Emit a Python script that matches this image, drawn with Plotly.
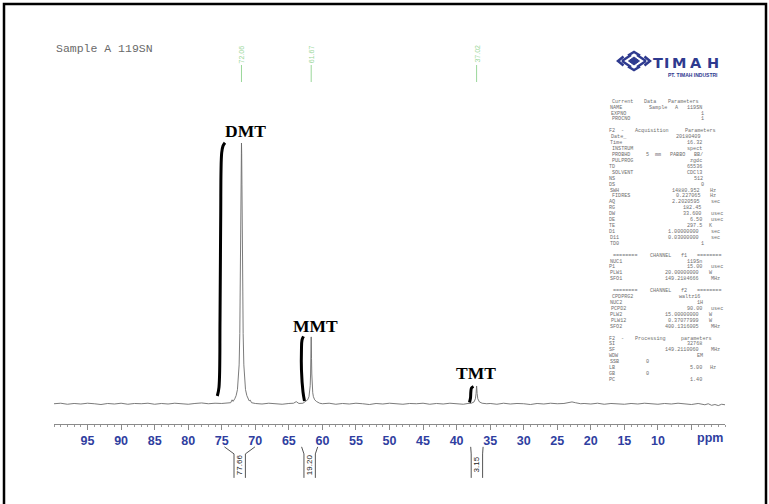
import re
import plotly.graph_objects as go

W, H = 769, 504
ML, MR = 54, 44
PW = W - ML - MR


def px(x):
    return (x - ML) / PW


def py(y):
    return 1 - y / H


# ---------------- data ----------------
spec_ppm = [100.0, 99.0, 98.0, 97.0, 96.0, 95.0, 94.0, 93.0, 92.0, 91.0, 90.0, 89.0, 88.0,
            87.0, 86.0, 85.0, 84.0, 83.0, 82.0, 81.0, 80.0, 79.0, 78.0, 77.0, 76.0, 75.0,
            74.2, 73.66, 73.46, 73.31, 73.06, 72.86, 72.66, 72.51, 72.41, 72.31, 72.24,
            72.18, 72.13, 72.09, 72.06, 72.03, 71.99, 71.94, 71.88, 71.81, 71.71, 71.61,
            71.46, 71.26, 71.06, 70.91, 70.76, 70.56, 70.0, 69.0, 68.0, 67.0, 66.0, 65.0,
            64.3, 63.9, 63.5, 62.9, 62.5, 62.2, 62.0, 61.9, 61.82, 61.76, 61.72, 61.69,
            61.67, 61.65, 61.62, 61.58, 61.52, 61.44, 61.34, 61.15, 60.85, 60.4, 60.0,
            59.0, 58.0, 57.0, 56.0, 55.0, 54.0, 53.0, 52.0, 51.0, 50.0, 49.0, 48.0, 47.0,
            46.0, 45.0, 44.0, 43.0, 42.0, 41.0, 40.0, 39.0, 38.3, 37.8, 37.4, 37.2, 37.1,
            37.05, 37.02, 36.99, 36.94, 36.84, 36.6, 36.2, 35.5, 35.0, 34.0, 33.0, 32.0,
            31.0, 30.0, 29.0, 28.0, 27.0, 26.0, 25.0, 24.0, 23.3, 22.8, 22.3, 21.5, 21.0,
            20.0, 19.0, 18.0, 17.0, 16.0, 15.0, 14.0, 13.0, 12.0, 11.0, 10.0, 9.0, 8.0,
            7.0, 6.0, 5.0, 4.0, 3.0, 2.5, 2.0, 1.5, 1.0, 0.5, 0.0]
spec_int = [0.1, 0.3, -0.1, 0.2, 0.0, 0.3, 0.1, -0.2, 0.2, 0.0, 0.3, -0.1, 0.2,
            0.1, 0.3, -0.1, 0.2, 0.0, 0.3, 0.1, -0.1, 0.2, 0.4, 0.1, 0.3, 0.2,
            0.4, 0.5, 1.6, 1.0, 2.0, 3.2, 5.5, 9.5, 15.0, 27.0, 42.0,
            62.0, 84.0, 96.0, 100.0, 96.0, 84.0, 62.0, 42.0, 27.0, 15.0, 9.5,
            5.5, 3.2, 2.0, 1.2, 1.5, 0.5, 0.2, 0.0, 0.3, 0.1, -0.1, 0.2,
            0.3, 0.9, 0.2, 0.3, 0.9, 1.6, 2.8, 4.3, 7.0, 11.5, 17.5, 23.0,
            25.7, 23.0, 17.5, 11.5, 7.0, 4.3, 2.8, 1.6, 0.9, 0.3, 0.1,
            0.3, -0.1, 0.2, 0.0, 0.3, 0.1, -0.2, 0.2, 0.0, 0.3, 0.1, -0.1, 0.2,
            0.1, 0.3, -0.1, 0.2, 0.0, 0.3, 0.1, -0.1, 0.2, 0.3, 0.8, 2.0, 4.0,
            6.0, 6.9, 6.0, 4.0, 2.0, 0.8, 0.3, 0.1, 0.2, -0.1, 0.3, 0.0,
            0.2, 0.1, -0.2, 0.2, 0.0, 0.3, 0.1, 0.2, 0.4, 0.8, 0.5, 0.1, 0.2,
            0.0, 0.3, -0.1, 0.2, 0.1, -0.1, 0.2, 0.0, 0.3, 0.1, -0.1, 0.2, 0.0,
            0.3, 0.1, -0.2, 0.2, -0.3, 0.1, -0.5, -0.2, -0.6, -0.1, -0.3]

# integral curves (hand-drawn style, as in the reference)
integ_dmt_ppm = [75.66, 75.41, 75.26, 75.16, 75.01, 74.81, 74.52]
integ_dmt_val = [3.07, 6.5, 32.2, 70.5, 96.2, 98.9, 100.1]
integ_mmt_ppm = [62.67, 62.89, 63.12, 63.12, 63.04, 62.82]
integ_mmt_val = [1.15, 4.6, 13.0, 20.7, 24.5, 25.9]
integ_tmt_ppm = [38.08, 37.93, 37.88, 37.78, 37.48]
integ_tmt_val = [0.57, 2.3, 4.6, 6.13, 6.7]

peak_names = ["DMT", "MMT", "TMT"]
pick_ppm = [72.06, 61.67, 37.02]
pick_labels = ["72.06", "61.67", "37.02"]
integral_values = ["77.66", "19.20", "3.15"]
integral_from = [74.6, 63.1, 37.9]
integral_to = [70.05, 60.7, 36.05]

tick_vals = [95, 90, 85, 80, 75, 70, 65, 60, 55, 50, 45, 40, 35, 30, 25, 20, 15, 10, 5]
tick_text = ["95", "90", "85", "80", "75", "70", "65", "60", "55", "50", "45", "40",
             "35", "30", "25", "20", "15", "10", ""]

title_text = "Sample A 119SN"

param_blocks = [
    ("Current Data Parameters", [
        ("NAME", "Sample A 119SN", ""), ("EXPNO", "1", ""), ("PROCNO", "1", "")]),
    ("F2 - Acquisition Parameters", [
        ("Date_", "20180409", ""), ("Time", "16.32", ""), ("INSTRUM", "spect", ""),
        ("PROBHD", "5 mm PABBO BB/", ""), ("PULPROG", "zgdc", ""), ("TD", "65536", ""),
        ("SOLVENT", "CDCl3", ""), ("NS", "512", ""), ("DS", "0", ""),
        ("SWH", "14880.952", "Hz"), ("FIDRES", "0.227065", "Hz"),
        ("AQ", "2.2020595", "sec"), ("RG", "182.45", ""), ("DW", "33.600", "usec"),
        ("DE", "6.50", "usec"), ("TE", "297.5", "K"), ("D1", "1.00000000", "sec"),
        ("D11", "0.03000000", "sec"), ("TD0", "1", "")]),
    ("======== CHANNEL f1 ========", [
        ("NUC1", "119Sn", ""), ("P1", "15.00", "usec"), ("PLW1", "20.00000000", "W"),
        ("SFO1", "149.2184666", "MHz")]),
    ("======== CHANNEL f2 ========", [
        ("CPDPRG2", "waltz16", ""), ("NUC2", "1H", ""), ("PCPD2", "90.00", "usec"),
        ("PLW2", "15.00000000", "W"), ("PLW12", "0.37077999", "W"),
        ("SFO2", "400.1316005", "MHz")]),
    ("F2 - Processing parameters", [
        ("SI", "32768", ""), ("SF", "149.2110060", "MHz"), ("WDW", "EM", ""),
        ("SSB", "0", "left"), ("LB", "5.00", "Hz"), ("GB", "0", "left"),
        ("PC", "1.40", "")]),
]

# ---------------- style ----------------
NAVY = "#2e3a8f"
TICK_BLUE = "#2f3ea0"
GREEN = "#9ad79a"
PX_PER_UNIT = 2.61
BASE_PX = 404
Y_BOTTOM = -(424 - BASE_PX) / PX_PER_UNIT
Y_TOP = BASE_PX / PX_PER_UNIT

fig = go.Figure()

fig.add_trace(go.Scatter(x=spec_ppm, y=spec_int, mode="lines",
                         line=dict(color="#6c6c6c", width=0.9), hoverinfo="skip"))

for xs, ys in [(integ_dmt_ppm, integ_dmt_val), (integ_mmt_ppm, integ_mmt_val),
               (integ_tmt_ppm, integ_tmt_val)]:
    fig.add_trace(go.Scatter(x=xs, y=ys, mode="lines",
                             line=dict(color="black", width=3, shape="spline"),
                             hoverinfo="skip"))

# peak pick markers
PICK_LO = (BASE_PX - 82) / PX_PER_UNIT
PICK_HI = (BASE_PX - 65) / PX_PER_UNIT
px_list, py_list = [], []
for p in pick_ppm:
    px_list += [p, p, None]
    py_list += [PICK_LO, PICK_HI, None]
fig.add_trace(go.Scatter(x=px_list, y=py_list, mode="lines",
                         line=dict(color=GREEN, width=1), hoverinfo="skip"))

# integral brackets (lower subplot)
BR_TOP, BR_KNEE, BR_BOT, BR_TXT = 0.81, 0.71, 0.37, 0.56
BOX_HALF = 0.85
bx, by = [], []
for a, b in zip(integral_from, integral_to):
    c = (a + b) / 2
    bx += [a, c + BOX_HALF, c + BOX_HALF, None, b, c - BOX_HALF, c - BOX_HALF, None]
    by += [BR_TOP, BR_KNEE, BR_BOT, None, BR_TOP, BR_KNEE, BR_BOT, None]
fig.add_trace(go.Scatter(x=bx, y=by, mode="lines", xaxis="x2", yaxis="y2",
                         line=dict(color="#555555", width=1), hoverinfo="skip"))

annotations = []

# title
annotations.append(dict(text=title_text, xref="paper", yref="paper", x=px(54), y=py(49),
                        xanchor="left", yanchor="middle", showarrow=False,
                        font=dict(family="Liberation Mono", size=11.5, color="#6a6a6a")))

# peak names
label_pos = [(71.49, 104.6), (61.04, 29.9), (37.11, 11.9)]
for name, (lx, ly) in zip(peak_names, label_pos):
    annotations.append(dict(text="<b>%s</b>" % name, x=lx, y=ly, xref="x", yref="y",
                            showarrow=False, xanchor="center", yanchor="middle",
                            font=dict(family="Liberation Serif", size=17.5, color="black")))

# pick labels
for p, t in zip(pick_ppm, pick_labels):
    annotations.append(dict(text=t, x=p, y=(BASE_PX - 54) / PX_PER_UNIT, xref="x", yref="y",
                            showarrow=False, textangle=-90, xanchor="center",
                            yanchor="middle",
                            font=dict(family="Liberation Sans", size=7, color=GREEN)))

# integral values
for a, b, v in zip(integral_from, integral_to, integral_values):
    annotations.append(dict(text=v, x=(a + b) / 2, y=BR_TXT, xref="x2", yref="y2",
                            showarrow=False, textangle=-90, xanchor="center",
                            yanchor="middle",
                            font=dict(family="Liberation Sans", size=8, color="#222222")))

# ppm unit label
annotations.append(dict(text="<b>ppm</b>", xref="paper", yref="paper", x=1.0, y=py(438),
                        xanchor="right", yanchor="middle", showarrow=False,
                        font=dict(family="Liberation Sans", size=12.5, color=TICK_BLUE)))

# parameter block: laid out on a character grid, each word centred on its slot
lines = []
for i, (head, rows) in enumerate(param_blocks):
    if i > 0:
        lines.append("")
    lines.append(head)
    for name, val, unit in rows:
        if unit == "left":
            s = name.ljust(9) + val
        else:
            s = name.ljust(8) + val.rjust(15)
            if unit:
                s += " " + unit
        lines.append(s)
LINE_Y0, LINE_DY = 101.7, 5.92
COL_X0, COL_W = 608.0, 4.2
for k, s in enumerate(lines):
    for m in re.finditer(r"\S+", s):
        cx = COL_X0 + (m.start() + len(m.group()) / 2) * COL_W
        annotations.append(dict(text=m.group(), xref="paper", yref="paper",
                                x=px(cx), y=py(LINE_Y0 + k * LINE_DY), xanchor="center",
                                yanchor="middle", showarrow=False,
                                font=dict(family="Liberation Mono", size=5.1,
                                          color="#6e6e6e")))

# logo text
for ch, cx in zip("TIMAH", [657.5, 666.7, 678.5, 695.8, 712.5]):
    annotations.append(dict(text="<b>%s</b>" % ch, xref="paper", yref="paper", x=px(cx),
                            y=py(62.8), xanchor="center", yanchor="middle", showarrow=False,
                            font=dict(family="DejaVu Sans", size=14.5, color=NAVY)))
annotations.append(dict(text="<b>PT. TIMAH INDUSTRI</b>", xref="paper", yref="paper",
                        x=px(720), y=py(74.8), xanchor="right", yanchor="middle",
                        showarrow=False,
                        font=dict(family="Liberation Sans", size=5, color=NAVY)))

# shapes: border + emblem
shapes = [dict(type="rect", xref="paper", yref="paper", x0=px(4), x1=px(766),
               y0=py(508), y1=py(4), line=dict(color="black", width=2.5))]


def path(points, close=False):
    s = "M " + " L ".join("%f,%f" % (px(a), py(b)) for a, b in points)
    return s + (" Z" if close else "")


shapes.append(dict(type="path", xref="paper", yref="paper",
                   path=path([(628.5, 61), (634, 57), (639.5, 61), (634, 65)], True),
                   fillcolor=NAVY, line=dict(color=NAVY, width=1)))
for pts in [[(623.5, 56.5), (618, 61), (623.5, 65.5)],
            [(644.5, 56.5), (650, 61), (644.5, 65.5)],
            [(628, 55.5), (634, 52), (640, 55.5)],
            [(628, 66.5), (634, 70), (640, 66.5)],
            [(622, 61), (631, 55)], [(637, 55), (646, 61)],
            [(622, 61), (631, 67)], [(637, 67), (646, 61)]]:
    shapes.append(dict(type="path", xref="paper", yref="paper", path=path(pts),
                       line=dict(color=NAVY, width=2.5)))

fig.update_layout(
    width=W, height=H,
    margin=dict(l=ML, r=MR, t=0, b=0),
    paper_bgcolor="white", plot_bgcolor="white",
    showlegend=False,
    xaxis=dict(range=[100, 0], domain=[0, 1], anchor="y", showgrid=False, zeroline=False,
               showline=True, linecolor="#8a8a8a", linewidth=1,
               ticks="outside", ticklen=5, tickwidth=1, tickcolor="#8a8a8a",
               tickmode="array", tickvals=tick_vals, ticktext=tick_text,
               tickfont=dict(family="Liberation Sans", size=12.5, color=TICK_BLUE,
                             weight="bold"),
               minor=dict(tickmode="linear", tick0=0, dtick=1, ticks="outside", ticklen=2,
                          tickcolor="#9a9a9a", showgrid=False),
               fixedrange=True),
    yaxis=dict(range=[Y_BOTTOM, Y_TOP], domain=[1 - 424 / H, 1], visible=False,
               fixedrange=True),
    xaxis2=dict(range=[100, 0], domain=[0, 1], anchor="y2", visible=False, fixedrange=True),
    yaxis2=dict(range=[0, 1], domain=[0, 0.14], anchor="x2", visible=False,
                fixedrange=True),
    annotations=annotations,
    shapes=shapes,
)

fig.write_html("out.html")
